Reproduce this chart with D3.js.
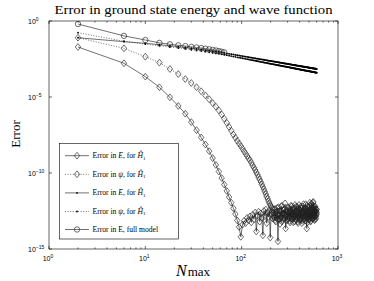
<!DOCTYPE html>
<html>
<head>
<meta charset="utf-8">
<script src="https://cdn.jsdelivr.net/npm/d3@7"></script>
<style>
  body { margin: 0; background: #fff; }
  svg { display: block; }
  text { fill: #000; }
</style>
</head>
<body>
<div id="chart"></div>
<script>
// N values (basis size)
var nGrid = [
  2, 6, 10, 14, 18, 22, 26, 30, 34, 38,
  42, 46, 50, 54, 58, 62, 66, 70, 74, 78,
  82, 86, 90, 94, 98, 102, 106, 110, 114, 118,
  122, 126, 130, 134, 138, 142, 146, 150, 154, 158,
  162, 166, 170, 174, 178, 182, 186, 190, 194, 198,
  202, 206, 210, 214, 218, 222, 226, 230, 234, 238,
  242, 246, 250, 254, 258, 262, 266, 270, 274, 278,
  282, 286, 290, 294, 298, 302, 306, 310, 314, 318,
  322, 326, 330, 334, 338, 342, 346, 350, 354, 358,
  362, 366, 370, 374, 378, 382, 386, 390, 394, 398,
  402, 406, 410, 414, 418, 422, 426, 430, 434, 438,
  442, 446, 450, 454, 458, 462, 466, 470, 474, 478,
  482, 486, 490, 494, 498, 502, 506, 510, 514, 518,
  522, 526, 530, 534, 538, 542, 546, 550, 554, 558,
  562, 566, 570, 574, 578, 582, 586, 590, 594, 598,
  602
];

// all errors given as log10(error)
var errE_H1 = [
  -1.71, -2.78, -3.66, -4.36, -5.02, -5.59, -6.10, -6.65, -7.18, -7.66,
  -8.12, -8.56, -9.02, -9.47, -9.91, -10.33, -10.76, -11.18, -11.58, -11.95,
  -12.32, -12.70, -13.12, -13.55, -14.20, -13.40, -13.15, -13.30, -12.95, -13.10,
  -12.85, -13.25, -12.75, -13.05, -12.60, -13.85, -12.80, -12.55, -13.20, -12.65,
  -12.95, -14.10, -12.50, -12.85, -12.40, -13.30, -12.60, -12.90, -12.45, -14.25,
  -12.70, -12.55, -13.00, -12.85, -12.40, -13.10, -12.60, -12.95, -12.30, -14.50,
  -12.75, -13.05, -12.50, -12.90, -12.20, -13.20, -12.65, -12.45, -13.00, -12.70,
  -12.35, -13.65, -12.80, -12.55, -13.10, -12.25, -12.90, -12.60, -13.15, -12.40,
  -12.85, -12.15, -13.00, -12.70, -12.45, -13.25, -12.60, -12.90, -12.30, -12.75,
  -13.05, -12.50, -12.20, -12.95, -12.65, -13.20, -12.40, -12.85, -12.10, -12.70,
  -13.10, -12.45, -12.95, -12.30, -12.80, -13.30, -12.55, -12.20, -12.90, -12.65,
  -13.00, -12.35, -12.75, -13.15, -12.50, -12.05, -12.85, -12.60, -13.65, -12.40,
  -12.95, -12.70, -12.25, -13.05, -12.55, -12.85, -12.15, -12.90, -12.60, -13.20,
  -12.45, -12.80, -12.00, -12.70, -13.00, -12.35, -12.85, -11.95, -12.60, -12.90,
  -12.30, -12.75, -13.10, -12.45, -12.20, -12.85, -12.55, -13.00, -12.40, -12.70,
  -12.60
];

var errPsi_H1 = [
  -1.10, -1.80, -2.35, -2.74, -3.16, -3.49, -3.82, -4.08, -4.35, -4.62,
  -4.89, -5.15, -5.40, -5.64, -5.88, -6.15, -6.43, -6.70, -6.97, -7.22,
  -7.47, -7.68, -7.88, -8.06, -8.23, -8.40, -8.57, -8.73, -8.88, -9.03,
  -9.17, -9.33, -9.49, -9.65, -9.80, -9.96, -10.12, -10.28, -10.43, -10.59,
  -10.75, -10.91, -11.07, -11.23, -11.39, -11.55, -11.70, -11.85, -11.98, -12.10,
  -12.20, -12.30, -12.40, -12.60, -12.95, -12.35, -13.20, -12.75, -12.50, -13.05,
  -12.25, -12.80, -13.35, -12.55, -12.90, -12.15, -13.10, -12.70, -12.40, -12.95,
  -12.00, -12.85, -13.15, -12.45, -12.75, -13.00, -12.30, -12.90, -12.55, -13.25,
  -12.65, -12.85, -12.20, -13.05, -12.60, -12.35, -12.95, -12.70, -13.20, -12.10,
  -12.80, -12.50, -13.10, -12.65, -12.25, -12.90, -13.30, -12.55, -12.85, -12.40,
  -12.75, -13.05, -12.20, -12.95, -12.60, -12.35, -13.15, -12.70, -12.50, -12.05,
  -12.85, -13.00, -12.45, -12.75, -12.30, -13.10, -12.65, -12.90, -12.15, -12.80,
  -13.25, -12.55, -12.95, -12.35, -12.70, -13.05, -12.45, -11.95, -12.85, -12.60,
  -13.15, -12.40, -12.75, -12.10, -12.90, -12.55, -13.00, -12.30, -11.90, -12.65,
  -12.95, -12.45, -12.80, -12.20, -13.05, -12.60, -12.35, -12.85, -12.50, -12.75,
  -12.40
];

var errE_H1bar = [
  -1.10, -1.36, -1.47, -1.56, -1.63, -1.69, -1.74, -1.79, -1.83, -1.87,
  -1.91, -1.95, -1.98, -2.01, -2.04, -2.07, -2.10, -2.13, -2.16, -2.18,
  -2.20, -2.23, -2.25, -2.27, -2.29, -2.31, -2.33, -2.34, -2.36, -2.38,
  -2.39, -2.41, -2.42, -2.44, -2.45, -2.47, -2.48, -2.49, -2.51, -2.52,
  -2.53, -2.54, -2.55, -2.56, -2.57, -2.59, -2.60, -2.61, -2.62, -2.63,
  -2.63, -2.64, -2.65, -2.66, -2.67, -2.68, -2.69, -2.70, -2.70, -2.71,
  -2.72, -2.73, -2.74, -2.74, -2.75, -2.76, -2.77, -2.77, -2.78, -2.79,
  -2.79, -2.80, -2.81, -2.81, -2.82, -2.83, -2.83, -2.84, -2.85, -2.85,
  -2.86, -2.86, -2.87, -2.88, -2.88, -2.89, -2.89, -2.90, -2.90, -2.91,
  -2.91, -2.92, -2.92, -2.93, -2.93, -2.94, -2.94, -2.95, -2.95, -2.96,
  -2.96, -2.97, -2.97, -2.98, -2.98, -2.99, -2.99, -3.00, -3.00, -3.00,
  -3.01, -3.01, -3.02, -3.02, -3.03, -3.03, -3.03, -3.04, -3.04, -3.05,
  -3.05, -3.05, -3.06, -3.06, -3.07, -3.07, -3.07, -3.08, -3.08, -3.08,
  -3.09, -3.09, -3.10, -3.10, -3.10, -3.11, -3.11, -3.11, -3.12, -3.12,
  -3.12, -3.13, -3.13, -3.13, -3.14, -3.14, -3.14, -3.15, -3.15, -3.15,
  -3.16
];

var errPsi_H1bar = [
  -0.77, -1.33, -1.52, -1.63, -1.71, -1.78, -1.84, -1.89, -1.94, -1.98,
  -2.02, -2.06, -2.10, -2.13, -2.16, -2.19, -2.22, -2.25, -2.28, -2.31,
  -2.34, -2.36, -2.39, -2.41, -2.43, -2.45, -2.47, -2.49, -2.51, -2.53,
  -2.55, -2.57, -2.58, -2.60, -2.61, -2.63, -2.64, -2.66, -2.67, -2.69,
  -2.70, -2.71, -2.73, -2.74, -2.75, -2.76, -2.77, -2.79, -2.80, -2.81,
  -2.82, -2.83, -2.84, -2.85, -2.86, -2.87, -2.88, -2.89, -2.90, -2.91,
  -2.91, -2.92, -2.93, -2.94, -2.95, -2.96, -2.97, -2.97, -2.98, -2.99,
  -3.00, -3.00, -3.01, -3.02, -3.03, -3.03, -3.04, -3.05, -3.05, -3.06,
  -3.07, -3.07, -3.08, -3.09, -3.09, -3.10, -3.11, -3.11, -3.12, -3.12,
  -3.13, -3.14, -3.14, -3.15, -3.15, -3.16, -3.16, -3.17, -3.18, -3.18,
  -3.19, -3.19, -3.20, -3.20, -3.21, -3.21, -3.22, -3.22, -3.23, -3.23,
  -3.24, -3.24, -3.25, -3.25, -3.26, -3.26, -3.26, -3.27, -3.27, -3.28,
  -3.28, -3.29, -3.29, -3.30, -3.30, -3.30, -3.31, -3.31, -3.32, -3.32,
  -3.33, -3.33, -3.33, -3.34, -3.34, -3.35, -3.35, -3.35, -3.36, -3.36,
  -3.36, -3.37, -3.37, -3.38, -3.38, -3.38, -3.39, -3.39, -3.39, -3.40,
  -3.40
];

// full model, only small N
var nFull = [2, 6, 10, 14, 18, 22, 26, 30, 34, 38, 42, 46, 50, 54, 58, 62, 66];
var errE_full = [-0.20, -0.98, -1.25, -1.44, -1.53, -1.60, -1.65, -1.70, -1.74,
                 -1.78, -1.82, -1.86, -1.90, -1.94, -1.98, -2.02, -2.06];

var xTickValues = [1, 10, 100, 1000];
var xTickExp = ["0", "1", "2", "3"];
var yTickValues = [1, 1e-5, 1e-10, 1e-15];
var yTickExp = ["0", "\u22125", "\u221210", "\u221215"];

var W = 374, H = 281;
var plot = {left: 49, right: 338, top: 21, bottom: 249};

var svg = d3.select("#chart").append("svg")
  .attr("width", W).attr("height", H);

var x = d3.scaleLog().domain([1, 1000]).range([plot.left, plot.right]);
var y = d3.scaleLog().domain([1e-15, 1]).range([plot.bottom, plot.top]);

function toPts(ns, logs) {
  return ns.map(function(n, i) { return {n: n, v: Math.pow(10, logs[i])}; });
}

var series = [
  {name: "EH1", pts: toPts(nGrid, errE_H1), dash: null, marker: "diamond"},
  {name: "psiH1", pts: toPts(nGrid, errPsi_H1), dash: "1,1.6", marker: "diamond"},
  {name: "EH1bar", pts: toPts(nGrid, errE_H1bar), dash: null, marker: "dot"},
  {name: "psiH1bar", pts: toPts(nGrid, errPsi_H1bar), dash: "1,1.6", marker: "dot"},
  {name: "Efull", pts: toPts(nFull, errE_full), dash: null, marker: "circle"}
];

svg.append("defs").append("clipPath").attr("id", "clip")
  .append("rect")
  .attr("x", plot.left).attr("y", plot.top)
  .attr("width", plot.right - plot.left).attr("height", plot.bottom - plot.top);

var g = svg.append("g").attr("clip-path", "url(#clip)");

var line = d3.line()
  .x(function(d) { return x(d.n); })
  .y(function(d) { return y(d.v); });

function drawMarker(sel, type, cx, cy) {
  if (type == "diamond") {
    var r = 3.4;
    sel.append("path")
      .attr("d", "M" + cx + "," + (cy - r) + "L" + (cx + r * 0.8) + "," + cy +
                 "L" + cx + "," + (cy + r) + "L" + (cx - r * 0.8) + "," + cy + "Z")
      .attr("fill", "none").attr("stroke", "#222").attr("stroke-width", 0.65);
  } else if (type == "circle") {
    sel.append("circle").attr("cx", cx).attr("cy", cy).attr("r", 2.7)
      .attr("fill", "none").attr("stroke", "#222").attr("stroke-width", 0.65);
  } else {
    sel.append("circle").attr("cx", cx).attr("cy", cy).attr("r", 0.9)
      .attr("fill", "#000");
  }
}

series.forEach(function(s) {
  var p = g.append("path")
    .datum(s.pts)
    .attr("d", line)
    .attr("fill", "none")
    .attr("stroke", "#111")
    .attr("stroke-width", 0.6);
  if (s.dash) p.attr("stroke-dasharray", s.dash);
  var mg = g.append("g");
  s.pts.forEach(function(d) {
    drawMarker(mg, s.marker, x(d.n), y(d.v));
  });
});

// axes box and ticks (inward, matlab style)
var axis = svg.append("g").attr("stroke", "#000").attr("stroke-width", 0.6);
axis.append("rect")
  .attr("x", plot.left).attr("y", plot.top)
  .attr("width", plot.right - plot.left).attr("height", plot.bottom - plot.top)
  .attr("fill", "none");

var xMinor = [];
[1, 10, 100].forEach(function(dec) {
  for (var k = 2; k <= 9; k++) xMinor.push(dec * k);
});
xMinor.forEach(function(v) {
  axis.append("line").attr("x1", x(v)).attr("x2", x(v))
    .attr("y1", plot.bottom).attr("y2", plot.bottom - 1.6);
  axis.append("line").attr("x1", x(v)).attr("x2", x(v))
    .attr("y1", plot.top).attr("y2", plot.top + 1.6);
});
xTickValues.forEach(function(v) {
  axis.append("line").attr("x1", x(v)).attr("x2", x(v))
    .attr("y1", plot.bottom).attr("y2", plot.bottom - 3);
  axis.append("line").attr("x1", x(v)).attr("x2", x(v))
    .attr("y1", plot.top).attr("y2", plot.top + 3);
});
yTickValues.forEach(function(v) {
  axis.append("line").attr("x1", plot.left).attr("x2", plot.left + 3)
    .attr("y1", y(v)).attr("y2", y(v));
  axis.append("line").attr("x1", plot.right).attr("x2", plot.right - 3)
    .attr("y1", y(v)).attr("y2", y(v));
});

var tickFont = "'Liberation Sans', Arial, sans-serif";
xTickValues.forEach(function(v, i) {
  var t = svg.append("text")
    .attr("x", x(v) - 1).attr("y", 261)
    .attr("text-anchor", "middle")
    .style("font-family", tickFont).style("font-size", "7px");
  t.append("tspan").text("10");
  t.append("tspan").attr("dy", -3.5).style("font-size", "5px").text(xTickExp[i]);
});
yTickValues.forEach(function(v, i) {
  var t = svg.append("text")
    .attr("x", 28).attr("y", y(v) + 3)
    .style("font-family", tickFont).style("font-size", "7px");
  t.append("tspan").text("10");
  t.append("tspan").attr("dy", -3.5).style("font-size", "5px").text(yTickExp[i]);
});

var serif = "'Liberation Serif', 'Times New Roman', serif";

svg.append("text")
  .attr("x", (plot.left + plot.right) / 2).attr("y", 13.5)
  .attr("text-anchor", "middle")
  .attr("textLength", 278).attr("lengthAdjust", "spacingAndGlyphs")
  .style("font-family", serif).style("font-size", "11.5px")
  .text("Error in ground state energy and wave function");

svg.append("text")
  .attr("transform", "translate(20,134) rotate(-90)")
  .attr("text-anchor", "middle")
  .style("font-family", serif).style("font-size", "13px")
  .text("Error");

var xl = svg.append("text")
  .attr("x", 176).attr("y", 275.5)
  .style("font-family", serif);
xl.append("tspan").style("font-style", "italic").style("font-size", "16px").text("N");
xl.append("tspan").attr("dx", 1).style("font-size", "13px").text("max");

// legend
var leg = svg.append("g");
leg.append("rect")
  .attr("x", 59.5).attr("y", 143.5).attr("width", 119).attr("height", 95.5)
  .attr("fill", "#fff").attr("stroke", "#000").attr("stroke-width", 0.6);

var legendItems = [
  {sym: "E", s: 0},
  {sym: "\u03c8", s: 1},
  {sym: "E", s: 2},
  {sym: "\u03c8", s: 3},
  {sym: null, s: 4}
];
var legY = [155.7, 174.3, 192.9, 211.5, 229.5];

legendItems.forEach(function(it, i) {
  var s = series[it.s];
  var ly = legY[i];
  var l = leg.append("line")
    .attr("x1", 65).attr("x2", 89).attr("y1", ly).attr("y2", ly)
    .attr("stroke", "#111").attr("stroke-width", 0.6);
  if (s.dash) l.attr("stroke-dasharray", s.dash);
  drawMarker(leg, s.marker, 77, ly);
  var t = leg.append("text")
    .attr("x", 92.5).attr("y", ly + 2.5)
    .style("font-family", serif).style("font-size", "7.6px");
  if (it.sym) {
    t.append("tspan").text("Error in ");
    t.append("tspan").style("font-style", "italic").text(it.sym);
    t.append("tspan").text(", for ");
    t.append("tspan").style("font-style", "italic").text("H\u0302");
    t.append("tspan").attr("dy", 1.3).style("font-size", "5px").text("1");
  } else {
    t.text("Error in E, full model");
  }
});
</script>
</body>
</html>
